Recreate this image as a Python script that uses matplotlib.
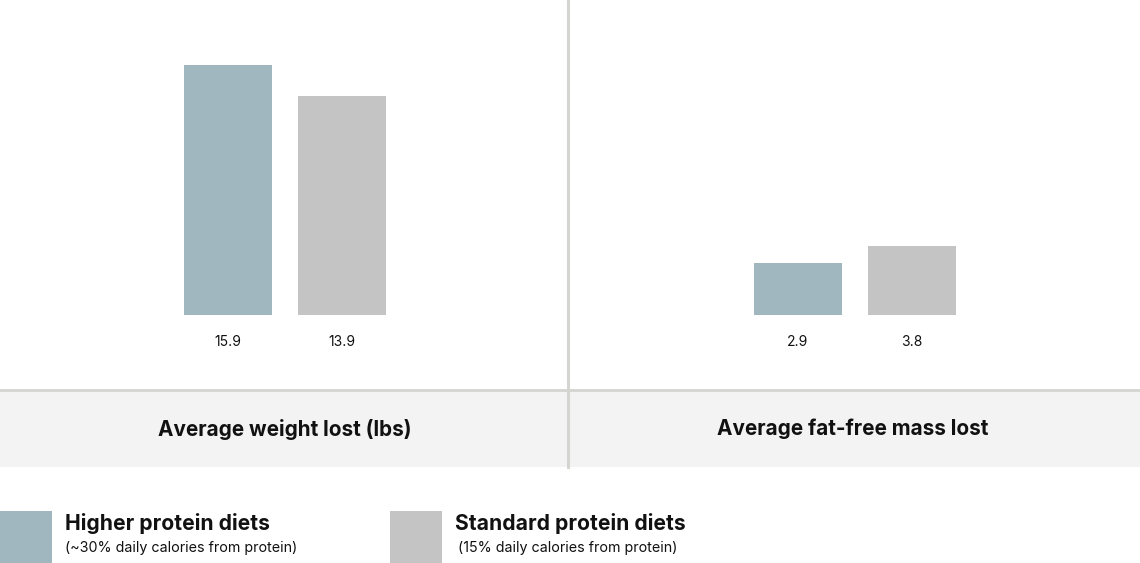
import matplotlib.pyplot as plt
from matplotlib.patches import Rectangle
from matplotlib.lines import Line2D

# ----------------------
# Data
# ----------------------
groups = ['Higher protein diets', 'Standard protein diets']
group_notes = ['(~30% daily calories from protein)', '(15% daily calories from protein)']
weight_lost = [15.9, 13.9]
ffm_lost = [2.9, 3.8]
panel_titles = ['Average weight lost (lbs)', 'Average fat-free mass lost']

colors = ['#a1b7c0', '#c4c4c4']
line_col = '#d4d4d0'
band_col = '#f3f3f3'
txt_col = '#111111'

W, H = 1140, 563


def fx(px):
    return px / W


def fy(py):
    return 1 - py / H


fig = plt.figure(figsize=(W / 100, H / 100), dpi=100)
plt.rcParams['font.family'] = ['Inter', 'DejaVu Sans']

# ----------------------
# Panels
# ----------------------
panels = [
    (weight_lost, 0, 568, 20.0),
    (ffm_lost, 568, 572, 17.4),
]

for (vals, left, width, ytop) in panels:
    ax = fig.add_axes([fx(left), fy(315), fx(width), 315 / H])
    xs = list(range(len(vals)))
    ax.bar(xs, vals, width=0.77, color=colors)
    off = 230 if left else 228
    ax.set_xlim(-off / 114, (width - off) / 114)
    ax.set_ylim(0, ytop)
    ax.axis('off')
    for i, v in zip(xs, vals):
        ax.annotate(f'{v}', xy=(i, 0), xytext=(0, -27), textcoords='offset pixels',
                    ha='center', va='center', fontsize=10, color=txt_col,
                    annotation_clip=False)

# band under panels
fig.patches.append(Rectangle((0, fy(467)), 1, fy(391) - fy(467), transform=fig.transFigure,
                             facecolor=band_col, edgecolor='none', zorder=0))
fig.lines.append(Line2D([0, 1], [fy(390), fy(390)], transform=fig.transFigure,
                        color=line_col, lw=2.0))
fig.lines.append(Line2D([fx(568), fx(568)], [fy(0), fy(467)], transform=fig.transFigure,
                        color=line_col, lw=2.2))

for title, cx in zip(panel_titles, [285, 853]):
    fig.text(fx(cx), fy(429), title, ha='center', va='center', fontsize=14.9,
             fontweight='bold', color=txt_col)

# ----------------------
# Legend
# ----------------------
for name, note, col, x0, nx in zip(groups, group_notes, colors, [0, 390], [65, 458]):
    fig.patches.append(Rectangle((fx(x0), fy(563)), fx(52), fy(511) - fy(563),
                                 transform=fig.transFigure, facecolor=col, edgecolor='none'))
    fig.text(fx(x0 + 65), fy(524), name, ha='left', va='center', fontsize=15.2,
             fontweight='bold', color=txt_col)
    fig.text(fx(nx), fy(548), note, ha='left', va='center', fontsize=10.3, color=txt_col)

fig.savefig('out.png', dpi=100)
